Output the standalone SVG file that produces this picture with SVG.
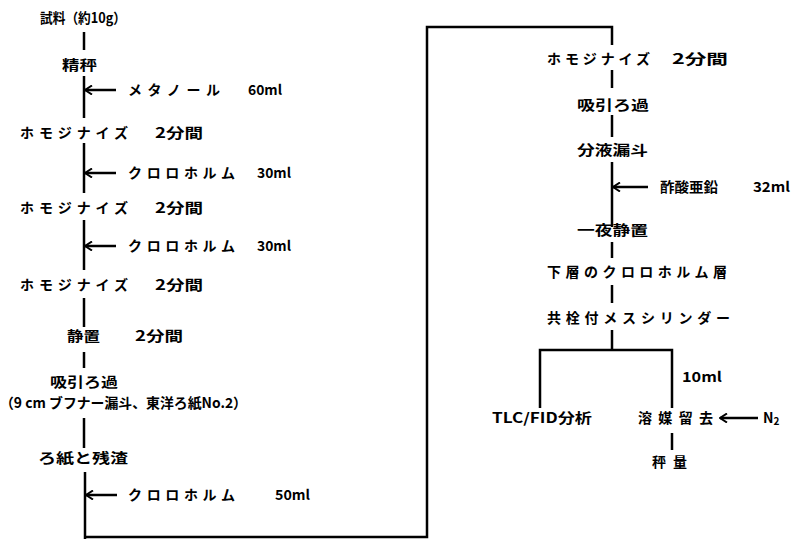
<svg xmlns="http://www.w3.org/2000/svg" width="791" height="539" viewBox="0 0 791 539">
<style>
.t{font-family:"Noto Sans CJK JP","Noto Sans",sans-serif;font-weight:bold;font-size:14px;fill:#000}
.l{stroke:#000;stroke-width:2.5;fill:none}
.a{stroke:#000;stroke-width:2.5;fill:none;marker-end:url(#ah)}
</style>
<defs>
<marker id="ah" viewBox="0 0 10 10" refX="9" refY="5" markerWidth="10" markerHeight="10" markerUnits="userSpaceOnUse" orient="auto">
<path d="M2,0.5 L9,5 L2,9.5" fill="none" stroke="#000" stroke-width="2"/>
</marker>
</defs>
<rect width="791" height="539" fill="#fff"/>
<g id="connectors">
<line class="l" x1="84" y1="32" x2="84" y2="50"/>
<line class="l" x1="84" y1="76" x2="84" y2="118"/>
<line class="a" x1="116" y1="90" x2="85" y2="90"/>
<line class="l" x1="84" y1="143" x2="84" y2="193"/>
<line class="a" x1="116" y1="173" x2="85" y2="173"/>
<line class="l" x1="84" y1="220" x2="84" y2="270"/>
<line class="a" x1="116" y1="246" x2="85" y2="246"/>
<line class="l" x1="84" y1="298" x2="84" y2="327"/>
<line class="l" x1="84" y1="352" x2="84" y2="368"/>
<line class="l" x1="84" y1="418" x2="84" y2="448"/>
<line class="l" x1="85" y1="472" x2="85" y2="539"/>
<line class="a" x1="117" y1="495" x2="86" y2="495"/>
<polyline class="l" points="85,537 427,537 427,27 612,27 612,45"/>
<line class="l" x1="612" y1="70" x2="612" y2="88"/>
<line class="l" x1="612" y1="115" x2="612" y2="137"/>
<line class="l" x1="612" y1="162" x2="612" y2="227"/>
<line class="a" x1="648" y1="187" x2="613" y2="187"/>
<line class="l" x1="612" y1="242" x2="612" y2="258"/>
<line class="l" x1="612" y1="285" x2="612" y2="303"/>
<line class="l" x1="612" y1="330" x2="612" y2="350"/>
<polyline class="l" points="540,408 540,350 672,350 672,408"/>
<line class="a" x1="758" y1="418" x2="720" y2="418"/>
<line class="l" x1="672" y1="433" x2="672" y2="450"/>
</g>
<g id="n1"><text class="t" x="40" y="23" textLength="86" lengthAdjust="spacingAndGlyphs">試料（約10g）</text></g>
<g id="n2"><text class="t" x="62" y="70" textLength="35" lengthAdjust="spacingAndGlyphs">精秤</text></g>
<g id="a1"><text class="t" x="128" y="95" textLength="92" lengthAdjust="spacing">メタノール</text><text class="t" x="248" y="95" textLength="34" lengthAdjust="spacingAndGlyphs">60ml</text></g>
<g id="n3"><text class="t" x="20" y="138" textLength="108" lengthAdjust="spacing">ホモジナイズ</text><text class="t" x="155" y="138" textLength="48" lengthAdjust="spacingAndGlyphs">2分間</text></g>
<g id="a2"><text class="t" x="128" y="178" textLength="107" lengthAdjust="spacing">クロロホルム</text><text class="t" x="257" y="178" textLength="34" lengthAdjust="spacingAndGlyphs">30ml</text></g>
<g id="n4"><text class="t" x="20" y="213" textLength="108" lengthAdjust="spacing">ホモジナイズ</text><text class="t" x="155" y="213" textLength="48" lengthAdjust="spacingAndGlyphs">2分間</text></g>
<g id="a3"><text class="t" x="128" y="251" textLength="107" lengthAdjust="spacing">クロロホルム</text><text class="t" x="257" y="251" textLength="34" lengthAdjust="spacingAndGlyphs">30ml</text></g>
<g id="n5"><text class="t" x="20" y="290" textLength="108" lengthAdjust="spacing">ホモジナイズ</text><text class="t" x="155" y="290" textLength="48" lengthAdjust="spacingAndGlyphs">2分間</text></g>
<g id="n6"><text class="t" x="67" y="341" textLength="33" lengthAdjust="spacingAndGlyphs">静置</text><text class="t" x="135" y="341" textLength="48" lengthAdjust="spacingAndGlyphs">2分間</text></g>
<g id="n7"><text class="t" x="50" y="387" textLength="68" lengthAdjust="spacingAndGlyphs">吸引ろ過</text><text class="t" x="0" y="408" textLength="247" lengthAdjust="spacingAndGlyphs">（9 cm ブフナー漏斗、東洋ろ紙No.2）</text></g>
<g id="n8"><text class="t" x="38" y="463" textLength="90" lengthAdjust="spacingAndGlyphs">ろ紙と残渣</text></g>
<g id="a4"><text class="t" x="128" y="500" textLength="107" lengthAdjust="spacing">クロロホルム</text><text class="t" x="275" y="500" textLength="35" lengthAdjust="spacingAndGlyphs">50ml</text></g>
<g id="n9"><text class="t" x="547" y="64" textLength="103" lengthAdjust="spacing">ホモジナイズ</text><text class="t" x="672" y="64" textLength="56" lengthAdjust="spacingAndGlyphs">2分間</text></g>
<g id="n10"><text class="t" x="577" y="110" textLength="72" lengthAdjust="spacingAndGlyphs">吸引ろ過</text></g>
<g id="n11"><text class="t" x="577" y="155" textLength="71" lengthAdjust="spacingAndGlyphs">分液漏斗</text></g>
<g id="a5"><text class="t" x="660" y="192" textLength="58" lengthAdjust="spacingAndGlyphs">酢酸亜鉛</text><text class="t" x="753" y="192" textLength="37" lengthAdjust="spacingAndGlyphs">32ml</text></g>
<g id="n12"><text class="t" x="577" y="235" textLength="71" lengthAdjust="spacingAndGlyphs">一夜静置</text></g>
<g id="n13"><text class="t" x="547" y="277" textLength="180" lengthAdjust="spacing">下層のクロロホルム層</text></g>
<g id="n14"><text class="t" x="547" y="323" textLength="183" lengthAdjust="spacing">共栓付メスシリンダー</text></g>
<g id="l1"><text class="t" x="682" y="382" textLength="40" lengthAdjust="spacingAndGlyphs">10ml</text></g>
<g id="n15"><text class="t" x="492" y="423" textLength="100" lengthAdjust="spacingAndGlyphs">TLC/FID分析</text></g>
<g id="n16"><text class="t" x="638" y="423" textLength="75" lengthAdjust="spacing">溶媒留去</text></g>
<g id="a6"><text class="t" x="763" y="423">N<tspan font-size="10" dy="2">2</tspan></text></g>
<g id="n17"><text class="t" x="652" y="467" textLength="35" lengthAdjust="spacing">秤量</text></g>
</svg>
